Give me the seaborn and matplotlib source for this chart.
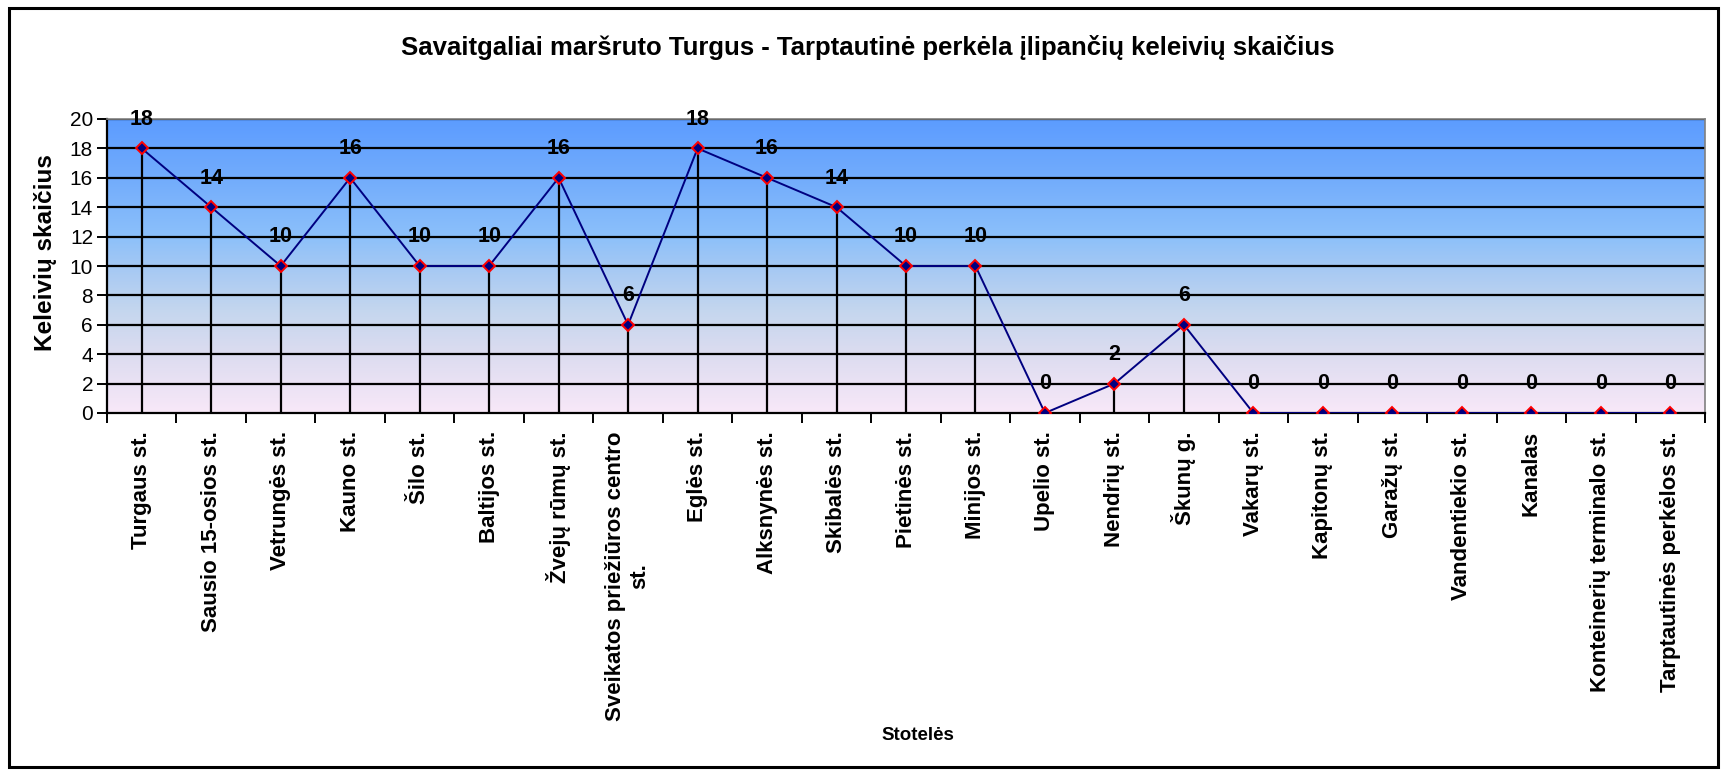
import numpy as np
import pandas as pd
import matplotlib
matplotlib.use("Agg")
import matplotlib.pyplot as plt
import seaborn as sns
from matplotlib.colors import LinearSegmentedColormap
from matplotlib.patches import Rectangle

stops = ["Turgaus st.", "Sausio 15-osios st.", "Vetrungės st.", "Kauno st.", "Šilo st.",
         "Baltijos st.", "Žvejų rūmų st.", "Sveikatos priežiūros centro\nst.", "Eglės st.",
         "Alksnynės st.", "Skibalės st.", "Pietinės st.", "Minijos st.", "Upelio st.",
         "Nendrių st.", "Škunų g.", "Vakarų st.", "Kapitonų st.", "Garažų st.",
         "Vandentiekio st.", "Kanalas", "Konteinerių terminalo st.", "Tarptautinės perkėlos st."]
passengers = [18, 14, 10, 16, 10, 10, 16, 6, 18, 16, 14, 10, 10, 0, 2, 6, 0, 0, 0, 0, 0, 0, 0]
y_ticks = [0, 2, 4, 6, 8, 10, 12, 14, 16, 18, 20]

title = "Savaitgaliai maršruto Turgus - Tarptautinė perkėla įlipančių keleivių skaičius"
xlabel = "Stotelės"
ylabel = "Keleivių skaičius"

sns.set_theme(style="white")
plt.rcParams["font.family"] = ["Liberation Sans", "DejaVu Sans"]
plt.rcParams["text.color"] = "black"
plt.rcParams["axes.labelcolor"] = "black"
plt.rcParams["xtick.color"] = "black"
plt.rcParams["ytick.color"] = "black"

df = pd.DataFrame({"idx": np.arange(len(stops)), "stop": stops, "value": passengers})

fig = plt.figure(figsize=(17.25, 7.7), dpi=100)
ax = fig.add_axes([107/1725, 1-413/770, (1705-107)/1725, (413-119)/770])

# gradient background
cmap = LinearSegmentedColormap.from_list("bg", [
    (0.0, "#f8e8f8"), (0.2, "#dcdcf0"), (0.35, "#c4d6ee"),
    (0.5, "#a4c8f4"), (0.6, "#8cc0fa"), (0.8, "#72acfc"), (1.0, "#5c9cff")])
grad = np.linspace(0, 1, 256).reshape(-1, 1)
ax.imshow(grad, cmap=cmap, aspect="auto", origin="lower",
          extent=[-0.5, len(stops)-0.5, 0, 20], zorder=0)

# horizontal gridlines
for yv in y_ticks[1:]:
    ax.axhline(yv, color="black", lw=1.6, zorder=1)

# drop lines
ax.vlines(df["idx"], 0, df["value"], color="black", lw=1.6, zorder=2)

sns.lineplot(data=df, x="idx", y="value", ax=ax, color="#000080", lw=1.4,
             marker="D", markersize=6, markerfacecolor="#000080",
             markeredgecolor="red", markeredgewidth=1.4, zorder=3)

for i, v in zip(df["idx"], df["value"]):
    ax.annotate(str(v), (i, v), xytext=(0, 21), textcoords="offset points",
                ha="center", va="center", fontsize=15.5, fontweight="bold", zorder=4)

ax.set_xlim(-0.5, len(stops)-0.5)
ax.set_ylim(0, 20)
ax.set_yticks(y_ticks)
ax.set_yticklabels([str(t) for t in y_ticks], fontsize=15)
ax.set_xticks(df["idx"])
ax.set_xticklabels(stops, rotation=90, fontsize=16, fontweight="bold",
                   va="top", ha="center", multialignment="center")
ax.set_xticks(np.arange(-0.5, len(stops)), minor=True)
ax.tick_params(axis="x", which="major", length=0, pad=13)
ax.tick_params(axis="x", which="minor", length=7, width=1.4, color="black", direction="out", bottom=True)
ax.tick_params(axis="y", length=7, width=1.4, color="black", direction="out", left=True, pad=3)

ax.set_xlabel(xlabel, fontsize=13.5, fontweight="bold", labelpad=0)
ax.xaxis.label.set_va("center")
ax.xaxis.set_label_coords((918-107)/(1705-107), (413-735)/(413-119))
ax.set_ylabel(ylabel, fontsize=17.5, fontweight="bold", labelpad=8)
ax.yaxis.label.set_va("center")
ax.yaxis.set_label_coords((46-107)/(1705-107), (413-253)/(413-119))

for s in ["left", "bottom"]:
    ax.spines[s].set_color("black")
    ax.spines[s].set_linewidth(1.6)
for s in ["top", "right"]:
    ax.spines[s].set_color("#808080")
    ax.spines[s].set_linewidth(1.2)

fig.text(868/1725, 1-48/770, title, ha="center", va="center",
         fontsize=18.5, fontweight="bold")

fig.patches.append(Rectangle((9/1725, 3/770), (1718-9)/1725, (762-3)/770,
                             transform=fig.transFigure, fill=False,
                             edgecolor="black", lw=2.2))

fig.savefig("out.png", dpi=100)
